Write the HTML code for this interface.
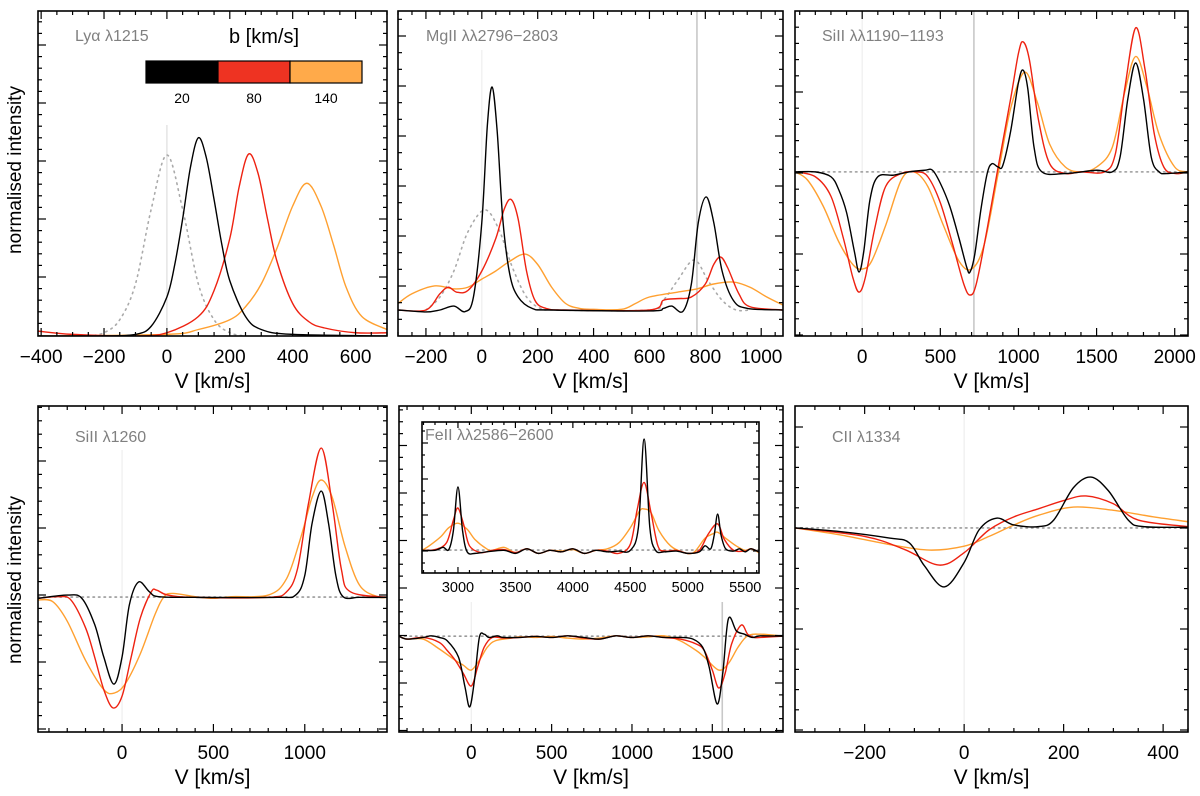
<!DOCTYPE html>
<html><head><meta charset="utf-8"><style>
html,body{margin:0;padding:0;background:#fff;}
svg{display:block;font-family:"Liberation Sans",Arial,sans-serif;}
</style></head><body>
<svg id="fig" width="1200" height="796" viewBox="0 0 1200 796" xmlns="http://www.w3.org/2000/svg"></svg>
<script>
// ---------- data (velocity km/s, normalised intensity in arbitrary panel units) ----------
const lyaDot   = [[-250,0],[-200,0.1],[-150,0.5],[-100,1.6],[-50,3.9],[0,5.57],[50,3.9],[100,1.6],[150,0.5],[200,0.1],[250,0]];
const lyaBlack = [[-410,0],[-200,0],[-100,0.05],[-50,0.3],[0,1.2],[25,2.2],[50,3.6],[75,5.2],[100,6.1],[125,5.5],[150,4.2],[175,2.8],[200,1.7],[250,0.6],[300,0.2],[400,0.05],[700,0]];
const lyaRed   = [[-410,0.15],[-300,0.05],[-100,0],[0,0.1],[100,0.6],[150,1.4],[200,3.0],[230,4.6],[260,5.6],[290,5.0],[320,3.6],[350,2.3],[400,1.0],[450,0.45],[500,0.25],[600,0.1],[700,0.1]];
const lyaOrange= [[-410,0],[0,0.05],[100,0.2],[200,0.5],[250,0.9],[300,1.6],[350,2.7],[400,4.0],[445,4.7],[490,4.0],[530,2.8],[570,1.5],[620,0.6],[700,0.2]];

const mgDot    = [[-200,0.8],[-150,1.2],[-100,2.0],[-50,3.2],[10,3.88],[60,3.3],[110,2.1],[160,1.2],[210,0.85],[260,0.8],[600,0.8],[650,1.1],[700,1.7],[760,2.34],[810,1.7],[860,1.1],[910,0.8],[960,0.8]];
const mgBlack  = [[-300,0.8],[-200,0.74],[-150,0.8],[-100,0.92],[-60,0.75],[-30,1.2],[0,3.5],[20,6.5],[37,7.66],[55,6.3],[75,3.6],[100,1.9],[130,1.2],[180,0.85],[250,0.8],[600,0.77],[650,0.85],[680,0.92],[720,0.76],[750,1.6],[775,3.5],[803,4.28],[830,3.5],[860,2.0],[900,1.1],[950,0.85],[1078,0.8]];
const mgRed    = [[-300,0.8],[-200,0.8],[-150,1.3],[-120,1.5],[-90,1.35],[-50,1.4],[0,2.0],[50,3.0],[80,3.9],[105,4.2],[130,3.6],[160,2.0],[190,1.1],[230,0.85],[300,0.8],[600,0.8],[650,1.1],[700,1.15],[750,1.2],[800,1.6],[830,2.2],[855,2.43],[880,2.1],[920,1.3],[960,0.9],[1078,0.8]];
const mgOrange = [[-300,1.0],[-250,1.3],[-170,1.54],[-100,1.45],[-50,1.5],[0,1.75],[50,2.0],[100,2.3],[155,2.52],[200,2.2],[250,1.5],[300,1.0],[350,0.85],[400,0.82],[500,0.82],[550,1.0],[600,1.2],[700,1.35],[770,1.45],[830,1.6],[900,1.66],[960,1.5],[1020,1.2],[1078,0.95]];

const si1190Black = [[-430,5.05],[-300,5.05],[-200,4.9],[-150,4.5],[-100,3.8],[-50,2.6],[-20,1.97],[10,2.6],[50,4.2],[100,4.9],[200,4.95],[300,5.05],[400,5.1],[450,5.1],[500,4.7],[560,4.0],[620,3.0],[670,2.1],[690,1.97],[720,2.5],[760,3.9],[800,5.0],[830,5.3],[870,5.2],[900,5.25],[950,6.3],[1000,7.8],[1030,8.18],[1060,7.6],[1100,5.8],[1150,5.05],[1300,5.0],[1500,5.1],[1600,5.05],[1650,5.5],[1700,7.3],[1750,8.4],[1800,7.3],[1850,5.5],[1900,5.05],[1950,5.0],[2085,5.05]];
const si1190Red   = [[-430,5.05],[-300,4.9],[-200,4.3],[-120,3.0],[-60,1.8],[-20,1.35],[20,1.8],[80,3.3],[150,4.6],[250,5.0],[350,5.05],[420,4.9],[500,4.1],[580,2.8],[650,1.6],[690,1.26],[730,1.6],[800,3.3],[870,5.2],[950,7.3],[1000,8.7],[1030,9.05],[1070,8.5],[1130,6.6],[1200,5.3],[1300,5.0],[1400,5.05],[1550,5.05],[1620,5.6],[1680,7.6],[1750,9.48],[1810,8.2],[1870,6.2],[1930,5.2],[2000,5.0],[2085,5.05]];
const si1190Orange= [[-430,5.05],[-350,4.8],[-250,4.0],[-150,2.9],[-60,2.2],[0,2.06],[60,2.3],[150,3.4],[250,4.8],[330,5.05],[420,4.6],[520,3.4],[620,2.3],[700,2.06],[780,2.8],[870,5.0],[950,7.0],[1040,8.12],[1120,7.2],[1200,5.9],[1300,5.2],[1400,5.05],[1500,5.2],[1600,5.8],[1680,7.5],[1750,8.6],[1820,7.7],[1900,6.2],[2000,5.2],[2085,5.05]];

const si1260Black = [[-460,4.1],[-300,4.2],[-220,4.1],[-150,3.3],[-100,2.3],[-45,1.47],[0,2.3],[40,3.9],[90,4.6],[150,4.3],[200,4.15],[400,4.13],[850,4.13],[950,4.2],[1000,4.8],[1040,6.4],[1090,7.39],[1130,6.4],[1170,4.8],[1210,4.15],[1300,4.13],[1450,4.13]];
const si1260Red   = [[-460,4.1],[-350,4.15],[-280,4.05],[-200,3.2],[-150,2.3],[-100,1.3],[-50,0.74],[0,1.1],[50,2.3],[100,3.5],[160,4.3],[190,4.35],[250,4.2],[400,4.13],[800,4.13],[900,4.3],[960,5.0],[1020,7.0],[1090,8.71],[1150,7.0],[1200,5.0],[1250,4.3],[1450,4.13]];
const si1260Orange= [[-460,4.05],[-380,4.0],[-300,3.4],[-200,2.2],[-100,1.3],[-40,1.2],[20,1.5],[100,2.4],[180,3.6],[230,4.15],[280,4.25],[400,4.15],[500,4.1],[600,4.15],[800,4.2],[900,4.7],[980,6.0],[1040,7.2],[1090,7.73],[1150,7.2],[1220,5.7],[1300,4.5],[1400,4.15],[1450,4.13]];

const feBlack = [[-450,2.94],[-400,2.85],[-300,2.9],[-250,2.95],[-200,2.9],[-150,2.8],[-80,2.3],[-40,1.4],[-10,0.77],[20,1.6],[50,2.9],[80,3.0],[110,2.9],[160,2.95],[200,2.9],[300,2.9],[400,2.93],[500,2.9],[600,2.95],[700,2.9],[800,2.85],[900,2.95],[1000,2.9],[1100,2.95],[1200,2.9],[1300,2.9],[1380,2.85],[1440,2.6],[1480,2.0],[1530,0.86],[1565,1.8],[1600,3.47],[1650,3.1],[1700,3.0],[1750,2.9],[1800,2.95],[1940,2.94]];
const feRed   = [[-450,2.94],[-400,2.85],[-300,2.9],[-200,2.75],[-150,2.5],[-100,2.2],[-50,1.8],[0,1.41],[40,2.0],[80,2.6],[130,2.9],[200,2.88],[300,2.9],[400,2.93],[500,2.9],[600,2.95],[700,2.88],[800,2.85],[900,2.95],[1000,2.9],[1100,2.95],[1200,2.9],[1300,2.85],[1400,2.7],[1450,2.5],[1500,1.9],[1540,1.35],[1580,1.8],[1620,2.7],[1680,3.28],[1720,3.0],[1760,2.9],[1800,2.9],[1940,2.94]];
const feOrange= [[-450,2.94],[-400,2.85],[-300,2.85],[-200,2.55],[-100,2.2],[-50,2.05],[0,1.9],[50,2.2],[100,2.6],[150,2.8],[250,2.88],[300,2.92],[400,2.9],[500,2.93],[600,2.88],[700,2.85],[800,2.88],[900,2.95],[1000,2.9],[1100,2.92],[1200,2.95],[1300,2.8],[1400,2.5],[1450,2.3],[1540,1.9],[1600,2.1],[1660,2.6],[1720,2.95],[1800,3.0],[1940,2.94]];

const insetBlack = [[2687,1.5],[2800,1.5],[2870,1.7],[2920,1.55],[2960,2.8],[3000,5.7],[3040,2.8],[3080,1.4],[3150,1.3],[3250,1.4],[3400,1.5],[3500,1.3],[3600,1.6],[3700,1.3],[3800,1.5],[3900,1.4],[4000,1.6],[4100,1.3],[4200,1.5],[4300,1.4],[4400,1.45],[4500,1.5],[4570,3],[4620,8.87],[4670,3],[4720,1.5],[4800,1.4],[4900,1.45],[5000,1.3],[5100,1.4],[5150,1.8],[5200,1.6],[5230,2.5],[5260,3.9],[5290,2.5],[5330,1.6],[5400,1.45],[5450,1.6],[5500,1.4],[5550,1.6],[5620,1.4]];
const insetRed   = [[2687,1.5],[2800,1.55],[2900,2.0],[2960,3.5],[3000,4.3],[3050,3.2],[3100,1.8],[3200,1.35],[3300,1.5],[3400,1.55],[3500,1.35],[3600,1.6],[3700,1.3],[3800,1.5],[3900,1.4],[4000,1.6],[4100,1.3],[4200,1.5],[4300,1.45],[4400,1.3],[4500,1.9],[4560,4.2],[4620,6.0],[4680,4.0],[4740,1.8],[4800,1.45],[4900,1.5],[5000,1.3],[5100,1.5],[5180,2.6],[5260,3.25],[5320,2.2],[5400,1.5],[5500,1.45],[5550,1.6],[5620,1.4]];
const insetOrange= [[2687,1.5],[2750,1.8],[2850,2.4],[2920,3.0],[3000,3.3],[3080,2.9],[3150,2.2],[3250,1.6],[3300,1.5],[3400,1.7],[3500,1.35],[3600,1.6],[3700,1.3],[3800,1.5],[3900,1.45],[4000,1.55],[4100,1.3],[4200,1.5],[4300,1.6],[4400,2.0],[4500,3.0],[4580,4.1],[4620,4.24],[4680,4.0],[4750,2.8],[4850,1.8],[4950,1.4],[5050,1.35],[5150,2.3],[5220,2.6],[5260,2.7],[5330,2.3],[5420,1.8],[5500,1.5],[5550,1.6],[5620,1.35]];

const ciiBlack = [[-340,6.26],[-250,6.15],[-150,5.95],[-110,5.8],[-80,5.1],[-40,4.45],[0,5.2],[30,6.2],[65,6.56],[100,6.35],[150,6.3],[180,6.5],[220,7.5],[255,7.82],[290,7.4],[330,6.5],[360,6.3],[450,6.28]];
const ciiRed   = [[-340,6.26],[-200,6.0],[-120,5.6],[-50,5.12],[0,5.5],[50,6.2],[100,6.6],[150,6.85],[200,7.1],[245,7.24],[300,7.0],[350,6.5],[450,6.3]];
const ciiOrange= [[-340,6.26],[-250,6.05],[-150,5.75],[-70,5.58],[0,5.7],[50,6.0],[100,6.35],[150,6.65],[220,6.9],[300,6.8],[380,6.6],[450,6.45]];

const colorbarLabels = ["20","80","140"];
const COLORS = {black:"#000000", red:"#ee2211", orange:"#ffa030"};

// ---------- drawing ----------
const NS="http://www.w3.org/2000/svg";
const svg=document.getElementById('fig');
function mk(tag,attrs,parent){const e=document.createElementNS(NS,tag);for(const k in attrs)e.setAttribute(k,attrs[k]);(parent||svg).appendChild(e);return e;}
function fmt(v){return v<0?"\u2212"+Math.abs(v):String(v);}

function smoothPath(pts){
  let d="M"+pts[0][0].toFixed(2)+","+pts[0][1].toFixed(2);
  for(let i=0;i<pts.length-1;i++){
    const p0=pts[i-1]||pts[i],p1=pts[i],p2=pts[i+1],p3=pts[i+2]||p2;
    const t=1/6;
    const c1=[p1[0]+(p2[0]-p0[0])*t,p1[1]+(p2[1]-p0[1])*t];
    const c2=[p2[0]-(p3[0]-p1[0])*t,p2[1]-(p3[1]-p1[1])*t];
    d+=" C"+c1[0].toFixed(2)+","+c1[1].toFixed(2)+" "+c2[0].toFixed(2)+","+c2[1].toFixed(2)+" "+p2[0].toFixed(2)+","+p2[1].toFixed(2);
  }
  return d;
}

let clipId=0;
function panel(cfg){
  const g=mk('g',{});
  
  
  const xs=v=>cfg.x0+(v-cfg.xmin)/(cfg.xmax-cfg.xmin)*(cfg.x1-cfg.x0);
  const ys=u=>cfg.y1-u/10*(cfg.y1-cfg.y0);
  const cid='clip'+(clipId++);
  const cp=mk('clipPath',{id:cid},g);
  mk('rect',{x:cfg.x0,y:cfg.y0,width:cfg.x1-cfg.x0,height:cfg.y1-cfg.y0},cp);
  const plot=mk('g',{'clip-path':'url(#'+cid+')'},g);
  (cfg.vlines||[]).forEach(vl=>{
    const l=mk('line',{x1:xs(vl.v),x2:xs(vl.v),y1:vl.top,y2:cfg.y1,stroke:vl.color,'stroke-width':vl.w||1.2},plot);
    
    
  });
  if(cfg.baseline!==undefined){
    const l=mk('line',{x1:cfg.x0,x2:cfg.x1,y1:ys(cfg.baseline),y2:ys(cfg.baseline),stroke:'#999','stroke-width':1.6,'stroke-dasharray':'1.5,4','stroke-linecap':'round'},plot);
    
    
  }
  (cfg.series||[]).forEach(s=>{
    const pts=s.data.map(p=>[xs(p[0]),ys(p[1])]);
    const attrs={d:smoothPath(pts),fill:'none',stroke:s.color,'stroke-width':s.dot?1.6:1.4,'stroke-linejoin':'round'};
    if(s.dot){attrs['stroke-dasharray']='1.5,4.5';attrs['stroke-linecap']='round';}
    const p=mk('path',attrs,plot);
    
    
  });
  const fr=mk('rect',{x:cfg.x0,y:cfg.y0,width:cfg.x1-cfg.x0,height:cfg.y1-cfg.y0,fill:'none',stroke:'#000','stroke-width':1.6},g);
  
  
  const tk=mk('g',{stroke:'#000','stroke-width':1.2},g);
  const mn=cfg.minor;
  for(let v=Math.ceil(cfg.xmin/mn)*mn;v<=cfg.xmax;v+=mn){
    const major=Math.abs(v/cfg.major-Math.round(v/cfg.major))<1e-6;
    const L=major?cfg.tl:cfg.tl/2;const x=xs(v);
    mk('line',{x1:x,x2:x,y1:cfg.y1,y2:cfg.y1-L},tk);
    mk('line',{x1:x,x2:x,y1:cfg.y0,y2:cfg.y0+L},tk);
    if(major){
      const t=mk('text',{x:x,y:cfg.y1+cfg.lblDy,'text-anchor':'middle','font-size':cfg.fs,fill:'#000',stroke:'none'},g);
      t.textContent=fmt(v);
      
      
    }
  }
  if(cfg.yMajorPx){
    const sub=cfg.ySub;const step=cfg.yMajorPx/sub;
    let k=0;
    for(let y=cfg.yStart;y>cfg.y0+1;y-=step,k++){
      const major=(k%sub)===0;const L=major?cfg.tl:cfg.tl/2;
      mk('line',{x1:cfg.x0,x2:cfg.x0+L,y1:y,y2:y},tk);
      mk('line',{x1:cfg.x1,x2:cfg.x1-L,y1:y,y2:y},tk);
    }
    k=1;
    for(let y=cfg.yStart+step;y<cfg.y1-1;y+=step,k++){
      const major=(k%sub)===0;const L=major?cfg.tl:cfg.tl/2;
      mk('line',{x1:cfg.x0,x2:cfg.x0+L,y1:y,y2:y},tk);
      mk('line',{x1:cfg.x1,x2:cfg.x1-L,y1:y,y2:y},tk);
    }
  }
  if(cfg.xTitle){
    const t=mk('text',{x:(cfg.x0+cfg.x1)/2,y:cfg.y1+52,'text-anchor':'middle','font-size':21,fill:'#000'},g);
    t.textContent='V [km/s]';
    
    
  }
  if(cfg.label){
    const t=mk('text',{x:cfg.x0+cfg.labelDx,y:cfg.y0+cfg.labelDy,'font-size':cfg.labelFs||16,fill:'#808080'},g);
    t.textContent=cfg.label;
    
    
  }
  return g;
}

const TOP=[11,336], BOT=[406,732];
const ser=(b,r,o)=>[{name:'b140-curve',data:o,color:COLORS.orange},{name:'b80-curve',data:r,color:COLORS.red},{name:'b20-curve',data:b,color:COLORS.black}];

panel({name:'lya-panel',x0:38,x1:387,y0:TOP[0],y1:TOP[1],xmin:-410,xmax:700,major:200,minor:50,tl:8,fs:19,lblDy:27,xTitle:true,
  yMajorPx:58,ySub:5,yStart:45,label:'Ly\u03b1 \u03bb1215',labelDx:37,labelDy:30,
  vlines:[{v:0,top:125,color:'#dddddd'}],
  series:[{name:'intrinsic-profile',data:lyaDot,color:'#aaaaaa',dot:true}].concat(ser(lyaBlack,lyaRed,lyaOrange))});

panel({name:'mgii-panel',x0:398,x1:783,y0:TOP[0],y1:TOP[1],xmin:-300,xmax:1078,major:200,minor:50,tl:8,fs:19,lblDy:27,xTitle:true,
  yMajorPx:50,ySub:3,yStart:86,label:'MgII \u03bb\u03bb2796\u22122803',labelDx:28,labelDy:30,
  vlines:[{v:0,top:50,color:'#eeeeee'},{v:770,top:11,color:'#c8c8c8',w:1.6}],
  series:[{name:'intrinsic-profile',data:mgDot,color:'#aaaaaa',dot:true}].concat(ser(mgBlack,mgRed,mgOrange))});

panel({name:'siii-1190-panel',x0:795,x1:1188,y0:TOP[0],y1:TOP[1],xmin:-430,xmax:2085,major:500,minor:100,tl:8,fs:19,lblDy:27,xTitle:true,
  yMajorPx:81,ySub:5,yStart:92,baseline:5.05,label:'SiII \u03bb\u03bb1190\u22121193',labelDx:27,labelDy:30,
  vlines:[{v:0,top:11,color:'#eeeeee'},{v:715,top:11,color:'#c8c8c8',w:1.6}],
  series:ser(si1190Black,si1190Red,si1190Orange)});

panel({name:'siii-1260-panel',x0:38,x1:387,y0:BOT[0],y1:BOT[1],xmin:-460,xmax:1450,major:500,minor:100,tl:8,fs:19,lblDy:27,xTitle:true,
  yMajorPx:67,ySub:5,yStart:461,baseline:4.14,label:'SiII \u03bb1260',labelDx:37,labelDy:36,
  vlines:[{v:0,top:450,color:'#eeeeee'}],
  series:ser(si1260Black,si1260Red,si1260Orange)});

panel({name:'feii-panel',x0:399,x1:783,y0:BOT[0],y1:BOT[1],xmin:-450,xmax:1940,major:500,minor:100,tl:8,fs:19,lblDy:27,xTitle:true,
  yMajorPx:47.5,ySub:4,yStart:588,baseline:2.94,
  vlines:[{v:0,top:602,color:'#eeeeee'},{v:1562,top:602,color:'#c8c8c8',w:1.6}],
  series:ser(feBlack,feRed,feOrange)});

const ib=mk('rect',{x:422,y:422,width:337,height:151,fill:'#fff'});


panel({name:'feii-inset',x0:422,x1:759,y0:422,y1:573,xmin:2687,xmax:5620,major:500,minor:100,tl:6,fs:14.5,lblDy:19,xTitle:false,
  yMajorPx:36,ySub:3,yStart:551,baseline:1.52,label:'FeII \u03bb\u03bb2586\u22122600',labelDx:3,labelDy:18,
  series:ser(insetBlack,insetRed,insetOrange)});

panel({name:'cii-panel',x0:795,x1:1188,y0:BOT[0],y1:BOT[1],xmin:-340,xmax:450,major:200,minor:50,tl:8,fs:19,lblDy:27,xTitle:true,
  yMajorPx:101,ySub:5,yStart:427,baseline:6.26,label:'CII \u03bb1334',labelDx:37,labelDy:36,
  vlines:[{v:0,top:406,color:'#eeeeee'}],
  series:ser(ciiBlack,ciiRed,ciiOrange)});

[[170],[580]].forEach(([cy])=>{
  const t=mk('text',{x:0,y:0,transform:'translate(21,'+cy+') rotate(-90)','text-anchor':'middle','font-size':19,fill:'#000'});
  t.textContent='normalised intensity';
  
  
});

const cb=mk('g',{});


const ct=mk('text',{x:264,y:43,'text-anchor':'middle','font-size':20,fill:'#000'},cb);
ct.textContent='b [km/s]';


const cbCols=[COLORS.black,'#ee3322','#ffaa4a'];
const segW=72;
cbCols.forEach((c,i)=>{
  const r=mk('rect',{x:146+i*segW,y:61,width:segW,height:22,fill:c,stroke:'#000','stroke-width':1.2},cb);
  
  
  const t=mk('text',{x:182+i*segW,y:103,'text-anchor':'middle','font-size':14,fill:'#000'},cb);
  t.textContent=colorbarLabels[i];
  
  
});
</script>
</body></html>
